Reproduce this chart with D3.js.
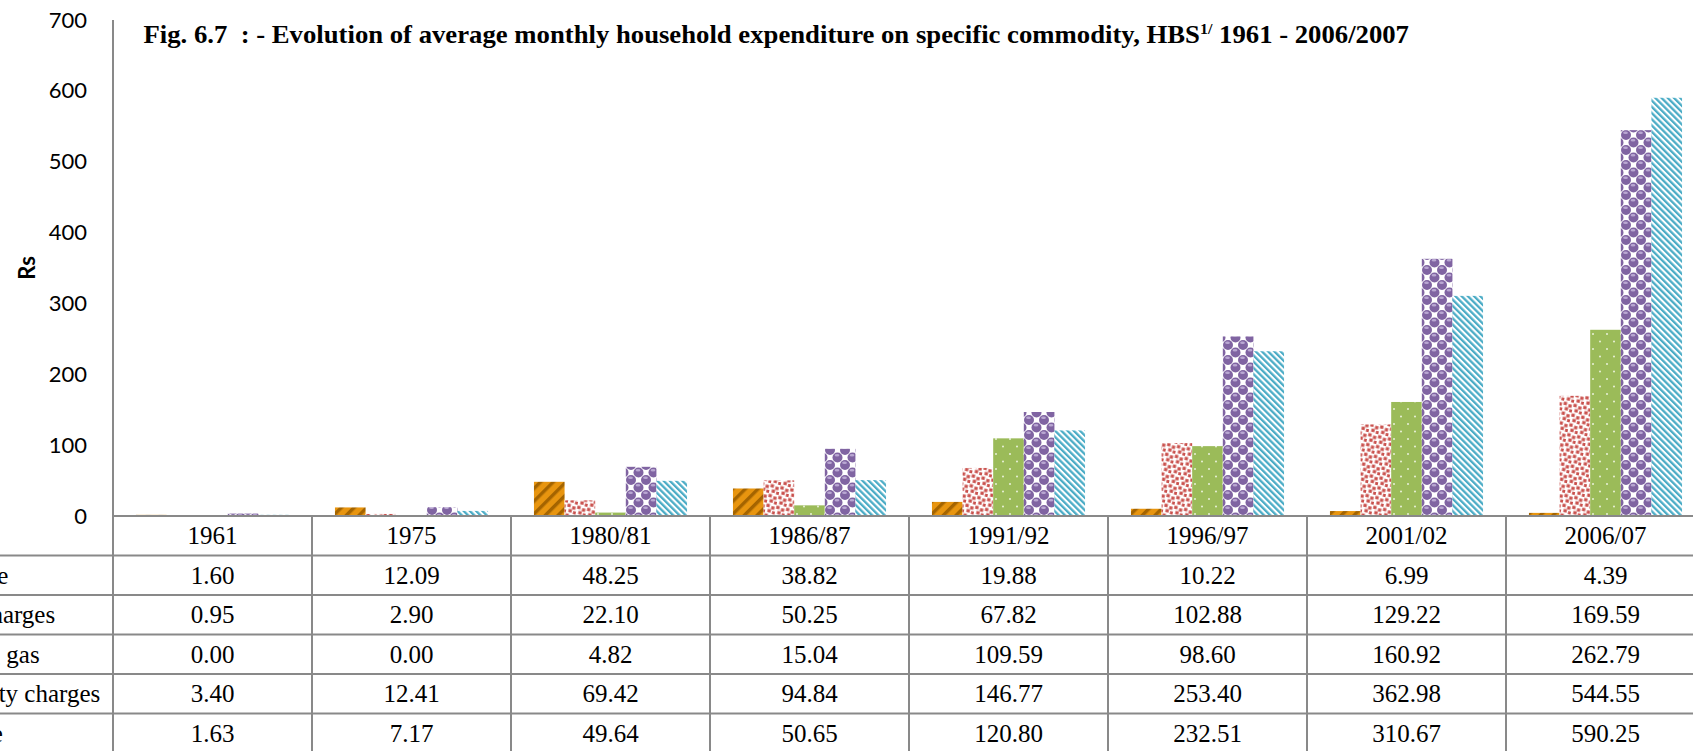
<!DOCTYPE html>
<html>
<head>
<meta charset="utf-8">
<script src="https://cdn.jsdelivr.net/npm/d3@7"></script>
<style>
  body { margin: 0; background: #fff; overflow: hidden; }
  svg { display: block; }
</style>
</head>
<body>
<script>
// Average monthly household expenditure (Rs) by survey year
const categories = ["1961", "1975", "1980/81", "1986/87", "1991/92", "1996/97", "2001/02", "2006/07"];
const seriesNames = ["Kerosene", "Water charges", "Cooking gas", "Electricity charges", "Gasoline"];
const kerosene = [1.60, 12.09, 48.25, 38.82, 19.88, 10.22, 6.99, 4.39];
const waterCharges = [0.95, 2.90, 22.10, 50.25, 67.82, 102.88, 129.22, 169.59];
const cookingGas = [0.00, 0.00, 4.82, 15.04, 109.59, 98.60, 160.92, 262.79];
const electricityCharges = [3.40, 12.41, 69.42, 94.84, 146.77, 253.40, 362.98, 544.55];
const gasoline = [1.63, 7.17, 49.64, 50.65, 120.80, 232.51, 310.67, 590.25];
const yTicks = [0, 100, 200, 300, 400, 500, 600, 700];
const yLabel = "Rs";
const titleMain = "Fig. 6.7  : - Evolution of average monthly household expenditure on specific commodity, HBS";
const titleSup = "1/";
const titleEnd = " 1961 - 2006/2007";

const seriesValues = [kerosene, waterCharges, cookingGas, electricityCharges, gasoline];
const patternIds = ["p-kero", "p-water", "p-gas", "p-elec", "p-fuel"];

const W = 1693, H = 751;
const plotLeft = 113, step = 199, plotTop = 20, plotBottom = 516;
const rowH = 39.5;
const lineColor = "#898989";
const serif = "'Liberation Serif', 'Times New Roman', serif";
const sans = "Lato, 'Open Sans', sans-serif";

const svg = d3.select("body").append("svg")
  .attr("width", W).attr("height", H)
  .style("background", "#fff");

// ---- fill patterns for the five series ----
const defs = svg.append("defs");

// wide upward diagonal, dark orange on orange
const pk = defs.append("pattern").attr("id", "p-kero")
  .attr("patternUnits", "userSpaceOnUse").attr("width", 9).attr("height", 9)
  .attr("patternTransform", "rotate(45)");
pk.append("rect").attr("width", 9).attr("height", 9).attr("fill", "#E8950F");
pk.append("rect").attr("width", 3.4).attr("height", 9).attr("fill", "#A46400");

// confetti, red squares on white
const pw = defs.append("pattern").attr("id", "p-water")
  .attr("patternUnits", "userSpaceOnUse").attr("width", 10).attr("height", 10)
  .attr("patternTransform", "rotate(12)");
pw.append("rect").attr("width", 10).attr("height", 10).attr("fill", "#fff");
[[0.3, 0.6], [5.4, 2.2], [2.4, 5.6], [7.2, 7.0]].forEach(([x, y]) =>
  pw.append("rect").attr("x", x).attr("y", y).attr("width", 3.3).attr("height", 3.3).attr("fill", "#C9504C"));

// sparse white dots on green
const pg = defs.append("pattern").attr("id", "p-gas")
  .attr("patternUnits", "userSpaceOnUse").attr("width", 14).attr("height", 15);
pg.append("rect").attr("width", 14).attr("height", 15).attr("fill", "#9BBB59");
[[3, 4], [10, 11.5]].forEach(([x, y]) =>
  pg.append("circle").attr("cx", x).attr("cy", y).attr("r", 1).attr("fill", "#E9F1D9"));

// spheres, purple balls on white
const pe = defs.append("pattern").attr("id", "p-elec")
  .attr("patternUnits", "userSpaceOnUse").attr("width", 15).attr("height", 15);
pe.append("rect").attr("width", 15).attr("height", 15).attr("fill", "#fff");
[[0, 0], [15, 0], [0, 15], [15, 15], [7.5, 7.5]].forEach(([x, y]) => {
  pe.append("circle").attr("cx", x).attr("cy", y).attr("r", 5).attr("fill", "#8064A2");
  pe.append("ellipse").attr("cx", x - 0.5).attr("cy", y - 2.3).attr("rx", 2.4).attr("ry", 1.3).attr("fill", "#B9A7D2");
});

// wide downward diagonal, cyan on white
const pf = defs.append("pattern").attr("id", "p-fuel")
  .attr("patternUnits", "userSpaceOnUse").attr("width", 4.4).attr("height", 4.4)
  .attr("patternTransform", "rotate(-45)");
pf.append("rect").attr("width", 4.4).attr("height", 4.4).attr("fill", "#fff");
pf.append("rect").attr("width", 2.3).attr("height", 4.4).attr("fill", "#4BACC6");

// ---- scales ----
const x0 = d3.scaleBand().domain(categories)
  .range([plotLeft, plotLeft + step * categories.length]).padding(0);
const x1 = d3.scaleBand().domain(seriesNames)
  .range([0, x0.bandwidth()]).paddingInner(0).paddingOuter(0.75);
const y = d3.scaleLinear().domain([0, 700]).range([plotBottom, plotTop]);

// ---- title ----
const title = svg.append("text")
  .attr("x", 0).attr("y", 0)
  .attr("font-family", serif).attr("font-weight", "bold").attr("font-size", 25)
  .style("white-space", "pre").attr("fill", "#000");
title.append("tspan").text(titleMain);
title.append("tspan").attr("font-size", 15).attr("dy", -9).text(titleSup);
title.append("tspan").attr("dy", 9).text(titleEnd);
const tw = title.node().getBBox().width;
title.attr("transform", `translate(143.5,42.5) scale(${1266 / tw},1)`);

// ---- bars ----
const groups = svg.append("g").selectAll("g")
  .data(categories).join("g")
  .attr("transform", d => `translate(${x0(d)},0)`);

groups.selectAll("rect")
  .data((c, ci) => seriesNames.map((s, si) => ({ s, si, v: seriesValues[si][ci] })))
  .join("rect")
  .attr("x", d => x1(d.s))
  .attr("width", x1.bandwidth())
  .attr("y", d => y(d.v))
  .attr("height", d => y(0) - y(d.v))
  .attr("fill", d => `url(#${patternIds[d.si]})`);

// ---- y axis ----
const yAxis = svg.append("g")
  .attr("transform", `translate(${plotLeft},0)`)
  .call(d3.axisLeft(y).tickValues(yTicks).tickSize(0).tickPadding(26).tickFormat(d3.format("d")));
yAxis.select(".domain").remove();
yAxis.selectAll("text")
  .attr("font-family", sans).attr("font-size", 22).attr("fill", "#000");

svg.append("text")
  .attr("transform", `translate(26,${(plotTop + plotBottom) / 2}) rotate(-90)`)
  .attr("text-anchor", "middle").attr("dominant-baseline", "central")
  .attr("font-family", sans).attr("font-weight", "bold").attr("font-size", 22)
  .text(yLabel);

// ---- data table ----
const table = svg.append("g");
const rowTops = d3.range(seriesNames.length + 1).map(i => plotBottom + rowH * (i + 1));

// horizontal rules
table.selectAll("line.h").data(rowTops).join("line")
  .attr("x1", 0).attr("x2", W)
  .attr("y1", d => d).attr("y2", d => d)
  .attr("stroke", lineColor).attr("stroke-width", 2);

// vertical rules between categories
table.selectAll("line.v").data(categories).join("line")
  .attr("x1", d => x0(d) + x0.bandwidth()).attr("x2", d => x0(d) + x0.bandwidth())
  .attr("y1", plotBottom).attr("y2", H)
  .attr("stroke", lineColor).attr("stroke-width", 2);

// header row of categories
table.selectAll("text.cat").data(categories).join("text")
  .attr("x", d => x0(d) + x0.bandwidth() / 2)
  .attr("y", plotBottom + rowH / 2 + 8.5)
  .attr("text-anchor", "middle")
  .attr("font-family", serif).attr("font-size", 25)
  .text(d => d);

// value rows
const fmt = d3.format(".2f");
seriesNames.forEach((name, si) => {
  const cy = plotBottom + rowH * (si + 1) + rowH / 2 + 8.5;
  table.append("text")
    .attr("x", -86).attr("y", cy)
    .attr("font-family", serif).attr("font-size", 25)
    .text(name);
  table.selectAll(null).data(categories).join("text")
    .attr("x", d => x0(d) + x0.bandwidth() / 2)
    .attr("y", cy)
    .attr("text-anchor", "middle")
    .attr("font-family", serif).attr("font-size", 25)
    .text((d, ci) => fmt(seriesValues[si][ci]));
});

// ---- axis lines ----
svg.append("line")
  .attr("x1", plotLeft).attr("x2", W).attr("y1", plotBottom).attr("y2", plotBottom)
  .attr("stroke", lineColor).attr("stroke-width", 2);
svg.append("line")
  .attr("x1", plotLeft).attr("x2", plotLeft).attr("y1", plotTop).attr("y2", H)
  .attr("stroke", lineColor).attr("stroke-width", 2);
</script>
</body>
</html>
